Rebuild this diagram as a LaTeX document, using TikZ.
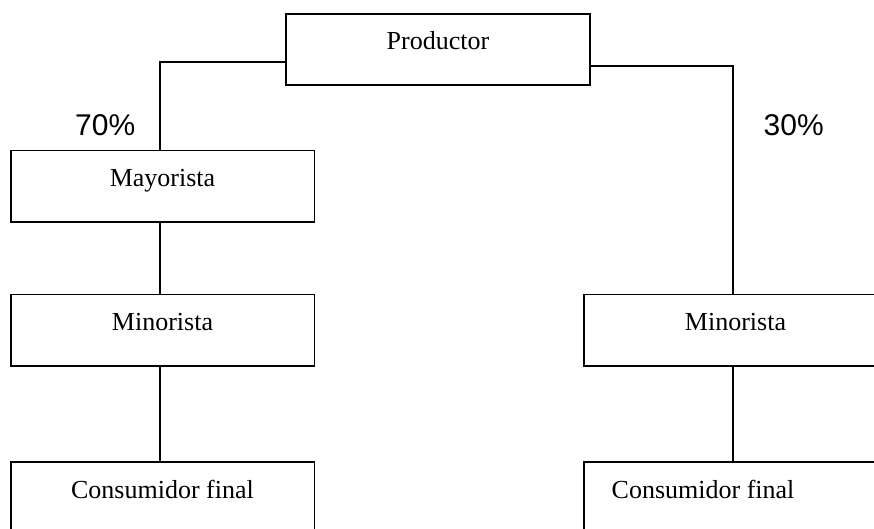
\documentclass[tikz,border=0pt]{standalone}
\usepackage{fontspec}
\setmainfont{Liberation Serif}
\newfontfamily\pctfont{Liberation Sans}
\begin{document}
\begin{tikzpicture}[x=1pt,y=-1pt,
  box/.style={draw,line width=1.6pt,rectangle,inner xsep=0pt,inner ysep=0pt,
    minimum width=303.6pt,text height=36pt,text depth=35.5pt,
    font=\fontsize{26}{30}\selectfont},
  leftbox/.style={box,inner xsep=28pt},
  link/.style={line width=1.7pt},
  pct/.style={inner sep=0pt,anchor=base,font=\pctfont\fontsize{30}{34}\selectfont}]
\useasboundingbox (0,0) rectangle (874,529);
\clip (0,0) rectangle (874,529);
\node[box] (prod) at (437.9,49.5) {Productor};
\node[box] (may)  at (162.5,186.2) {Mayorista};
\node[box] (minL) at (162.5,330.2) {Minorista};
\node[box] (conL) at (162.5,498) {Consumidor final};
\node[box] (minR) at (735.5,330.2) {Minorista};
\node[leftbox] (conR) at (735.5,498) {\makebox[247.6pt][l]{Consumidor final}};
\node[pct] (p70) at (105.2,136) {70\%};
\node[pct] (p30) at (793.7,136) {30\%};
\coordinate (lk) at (160,61.7);
\coordinate (rk) at (733,65.7);
\coordinate (lx) at (160,0);
\draw[link] (lk -| prod.west) -- (lk) -- (lk |- may.north);
\draw[link] (rk -| prod.east) -- (rk) -- (rk |- minR.north);
\draw[link] (lx |- may.south) -- (lx |- minL.north);
\draw[link] (lx |- minL.south) -- (lx |- conL.north);
\draw[link] (rk |- minR.south) -- (rk |- conR.north);
\end{tikzpicture}
\end{document}
